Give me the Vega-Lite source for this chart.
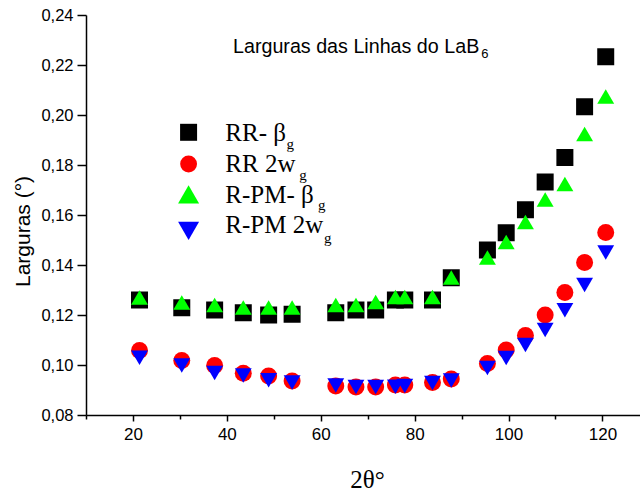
{
  "$schema": "https://vega.github.io/schema/vega-lite/v6.json",
  "width": 554,
  "height": 400,
  "autosize": {"type": "none"},
  "padding": {"left": 86, "top": 15, "right": 0, "bottom": 78},
  "background": "#ffffff",
  "config": {"view": {"stroke": null}, "font": "Liberation Sans"},
  "layer": [
    {
      "data": {
        "values": [
          {"s": "RR-β", "x": 21.4, "y": 0.126},
          {"s": "RR-β", "x": 30.4, "y": 0.1229},
          {"s": "RR-β", "x": 37.4, "y": 0.122},
          {"s": "RR-β", "x": 43.5, "y": 0.1209},
          {"s": "RR-β", "x": 48.9, "y": 0.12},
          {"s": "RR-β", "x": 53.9, "y": 0.1203},
          {"s": "RR-β", "x": 63.2, "y": 0.1209},
          {"s": "RR-β", "x": 67.5, "y": 0.122},
          {"s": "RR-β", "x": 71.7, "y": 0.122},
          {"s": "RR-β", "x": 75.9, "y": 0.126},
          {"s": "RR-β", "x": 77.9, "y": 0.126},
          {"s": "RR-β", "x": 83.8, "y": 0.126},
          {"s": "RR-β", "x": 87.8, "y": 0.1349},
          {"s": "RR-β", "x": 95.5, "y": 0.146},
          {"s": "RR-β", "x": 99.5, "y": 0.1529},
          {"s": "RR-β", "x": 103.6, "y": 0.1621},
          {"s": "RR-β", "x": 107.8, "y": 0.1732},
          {"s": "RR-β", "x": 112.0, "y": 0.183},
          {"s": "RR-β", "x": 116.2, "y": 0.2033},
          {"s": "RR-β", "x": 120.7, "y": 0.2233},
          {"s": "RR 2w", "x": 21.4, "y": 0.1058},
          {"s": "RR 2w", "x": 30.4, "y": 0.1018},
          {"s": "RR 2w", "x": 37.4, "y": 0.0998},
          {"s": "RR 2w", "x": 43.5, "y": 0.0967},
          {"s": "RR 2w", "x": 48.9, "y": 0.0956},
          {"s": "RR 2w", "x": 53.9, "y": 0.0936},
          {"s": "RR 2w", "x": 63.2, "y": 0.0916},
          {"s": "RR 2w", "x": 67.5, "y": 0.0912},
          {"s": "RR 2w", "x": 71.7, "y": 0.0912},
          {"s": "RR 2w", "x": 75.9, "y": 0.092},
          {"s": "RR 2w", "x": 77.9, "y": 0.092},
          {"s": "RR 2w", "x": 83.8, "y": 0.093},
          {"s": "RR 2w", "x": 87.8, "y": 0.0944},
          {"s": "RR 2w", "x": 95.5, "y": 0.1006},
          {"s": "RR 2w", "x": 99.5, "y": 0.106},
          {"s": "RR 2w", "x": 103.6, "y": 0.1118},
          {"s": "RR 2w", "x": 107.8, "y": 0.12},
          {"s": "RR 2w", "x": 112.0, "y": 0.129},
          {"s": "RR 2w", "x": 116.2, "y": 0.141},
          {"s": "RR 2w", "x": 120.7, "y": 0.153},
          {"s": "R-PM-β", "x": 21.4, "y": 0.127},
          {"s": "R-PM-β", "x": 30.4, "y": 0.125},
          {"s": "R-PM-β", "x": 37.4, "y": 0.124},
          {"s": "R-PM-β", "x": 43.5, "y": 0.123},
          {"s": "R-PM-β", "x": 48.9, "y": 0.123},
          {"s": "R-PM-β", "x": 53.9, "y": 0.123},
          {"s": "R-PM-β", "x": 63.2, "y": 0.124},
          {"s": "R-PM-β", "x": 67.5, "y": 0.124},
          {"s": "R-PM-β", "x": 71.7, "y": 0.1252},
          {"s": "R-PM-β", "x": 75.9, "y": 0.1272},
          {"s": "R-PM-β", "x": 77.9, "y": 0.1272},
          {"s": "R-PM-β", "x": 83.8, "y": 0.1272},
          {"s": "R-PM-β", "x": 87.8, "y": 0.135},
          {"s": "R-PM-β", "x": 95.5, "y": 0.143},
          {"s": "R-PM-β", "x": 99.5, "y": 0.1492},
          {"s": "R-PM-β", "x": 103.6, "y": 0.1572},
          {"s": "R-PM-β", "x": 107.8, "y": 0.1662},
          {"s": "R-PM-β", "x": 112.0, "y": 0.1724},
          {"s": "R-PM-β", "x": 116.2, "y": 0.1924},
          {"s": "R-PM-β", "x": 120.7, "y": 0.2074},
          {"s": "R-PM 2w", "x": 21.4, "y": 0.1029},
          {"s": "R-PM 2w", "x": 30.4, "y": 0.0998},
          {"s": "R-PM 2w", "x": 37.4, "y": 0.0968},
          {"s": "R-PM 2w", "x": 43.5, "y": 0.0958},
          {"s": "R-PM 2w", "x": 48.9, "y": 0.0939},
          {"s": "R-PM 2w", "x": 53.9, "y": 0.093},
          {"s": "R-PM 2w", "x": 63.2, "y": 0.0918},
          {"s": "R-PM 2w", "x": 67.5, "y": 0.0912},
          {"s": "R-PM 2w", "x": 71.7, "y": 0.0912},
          {"s": "R-PM 2w", "x": 75.9, "y": 0.0913},
          {"s": "R-PM 2w", "x": 77.9, "y": 0.0916},
          {"s": "R-PM 2w", "x": 83.8, "y": 0.0928},
          {"s": "R-PM 2w", "x": 87.8, "y": 0.0938},
          {"s": "R-PM 2w", "x": 95.5, "y": 0.0988},
          {"s": "R-PM 2w", "x": 99.5, "y": 0.1028},
          {"s": "R-PM 2w", "x": 103.6, "y": 0.108},
          {"s": "R-PM 2w", "x": 107.8, "y": 0.114},
          {"s": "R-PM 2w", "x": 112.0, "y": 0.1219},
          {"s": "R-PM 2w", "x": 116.2, "y": 0.132},
          {"s": "R-PM 2w", "x": 120.7, "y": 0.145}
        ]
      },
      "mark": {"type": "point", "filled": true, "opacity": 1, "strokeWidth": 0},
      "encoding": {
        "x": {
          "field": "x", "type": "quantitative",
          "scale": {"domain": [10, 128], "nice": false, "zero": false},
          "axis": {
            "values": [10, 20, 30, 40, 50, 60, 70, 80, 90, 100, 110, 120],
            "labelExpr": "datum.value % 20 == 0 ? datum.label : ''",
            "title": "2θ°",
            "titleFont": "Liberation Serif", "titleFontSize": 25, "titleFontWeight": "normal", "titleColor": "#000000",
            "titleBaseline": "alphabetic", "titleY": 72, "titleX": 281,
            "labelFont": "Liberation Sans", "labelFontSize": 17, "labelColor": "#000000", "labelPadding": 5,
            "labelFlush": false, "labelOverlap": false,
            "tickSize": {"condition": {"test": "datum.value % 20 == 0", "value": 6}, "value": 4},
            "tickColor": "#000000", "tickWidth": 1.5,
            "domainColor": "#000000", "domainWidth": 1.5, "grid": false
          }
        },
        "y": {
          "field": "y", "type": "quantitative",
          "scale": {"domain": [0.08, 0.24], "nice": false, "zero": false},
          "axis": {
            "values": [0.08, 0.09, 0.1, 0.11, 0.12, 0.13, 0.14, 0.15, 0.16, 0.17, 0.18, 0.19, 0.2, 0.21, 0.22, 0.23, 0.24],
            "labelExpr": "round(datum.value * 100) % 2 == 0 ? replace(format(datum.value, '.2f'), '.', ',') : ''",
            "title": "Larguras (°)",
            "titleFont": "Liberation Sans", "titleFontSize": 21, "titleFontWeight": "normal", "titleColor": "#000000",
            "titleBaseline": "alphabetic", "titleX": -57, "titleY": 216,
            "labelFont": "Liberation Sans", "labelFontSize": 16.5, "labelColor": "#000000", "labelPadding": 4,
            "labelFlush": false, "labelOverlap": false,
            "tickSize": {"condition": {"test": "round(datum.value * 100) % 2 == 0", "value": 9}, "value": 4.5},
            "tickColor": "#000000", "tickWidth": 1.5,
            "domainColor": "#000000", "domainWidth": 1.5, "grid": false
          }
        },
        "color": {"field": "s", "type": "nominal", "scale": {"domain": ["RR-β", "RR 2w", "R-PM-β", "R-PM 2w"], "range": ["#000000", "#ff0000", "#00ff00", "#0000ff"]}, "legend": null},
        "shape": {"field": "s", "type": "nominal", "scale": {"domain": ["RR-β", "RR 2w", "R-PM-β", "R-PM 2w"], "range": ["square", "circle", "triangle-up", "triangle-down"]}, "legend": null},
        "size": {"field": "s", "type": "ordinal", "scale": {"domain": ["RR-β", "RR 2w", "R-PM-β", "R-PM 2w"], "range": [289, 284, 441, 441]}, "legend": null}
      }
    },
    {
      "data": {"values": [{}]},
      "mark": {"type": "point", "shape": "square", "filled": true, "opacity": 1, "strokeWidth": 0, "color": "#000000", "size": 289},
      "encoding": {"x": {"datum": 31.85}, "y": {"datum": 0.19308}}
    },
    {
      "data": {"values": [{}]},
      "mark": {"type": "point", "shape": "circle", "filled": true, "opacity": 1, "strokeWidth": 0, "color": "#ff0000", "size": 284},
      "encoding": {"x": {"datum": 31.85}, "y": {"datum": 0.1804}}
    },
    {
      "data": {"values": [{}]},
      "mark": {"type": "point", "shape": "triangle-up", "filled": true, "opacity": 1, "strokeWidth": 0, "color": "#00ff00", "size": 441},
      "encoding": {"x": {"datum": 31.85}, "y": {"datum": 0.16828}}
    },
    {
      "data": {"values": [{}]},
      "mark": {"type": "point", "shape": "triangle-down", "filled": true, "opacity": 1, "strokeWidth": 0, "color": "#0000ff", "size": 441},
      "encoding": {"x": {"datum": 31.85}, "y": {"datum": 0.15368}}
    },
    {
      "data": {"values": [{}]},
      "mark": {"type": "text", "align": "left", "baseline": "alphabetic", "font": "Liberation Serif", "fontSize": 25, "color": "#000000", "text": "RR- β"},
      "encoding": {"x": {"datum": 39.67}, "y": {"datum": 0.18972}}
    },
    {
      "data": {"values": [{}]},
      "mark": {"type": "text", "align": "left", "baseline": "alphabetic", "font": "Liberation Serif", "fontSize": 25, "color": "#000000", "text": "RR 2w"},
      "encoding": {"x": {"datum": 39.67}, "y": {"datum": 0.17732}}
    },
    {
      "data": {"values": [{}]},
      "mark": {"type": "text", "align": "left", "baseline": "alphabetic", "font": "Liberation Serif", "fontSize": 25, "color": "#000000", "text": "R-PM- β"},
      "encoding": {"x": {"datum": 39.67}, "y": {"datum": 0.16492}}
    },
    {
      "data": {"values": [{}]},
      "mark": {"type": "text", "align": "left", "baseline": "alphabetic", "font": "Liberation Serif", "fontSize": 25, "color": "#000000", "text": "R-PM 2w"},
      "encoding": {"x": {"datum": 39.67}, "y": {"datum": 0.15292}}
    },
    {
      "data": {"values": [{}]},
      "mark": {"type": "text", "align": "left", "baseline": "alphabetic", "font": "Liberation Serif", "fontSize": 15, "color": "#000000", "text": "g"},
      "encoding": {"x": {"datum": 52.7}, "y": {"datum": 0.18652}}
    },
    {
      "data": {"values": [{}]},
      "mark": {"type": "text", "align": "left", "baseline": "alphabetic", "font": "Liberation Serif", "fontSize": 15, "color": "#000000", "text": "g"},
      "encoding": {"x": {"datum": 55.4}, "y": {"datum": 0.17412}}
    },
    {
      "data": {"values": [{}]},
      "mark": {"type": "text", "align": "left", "baseline": "alphabetic", "font": "Liberation Serif", "fontSize": 15, "color": "#000000", "text": "g"},
      "encoding": {"x": {"datum": 59.4}, "y": {"datum": 0.16212}}
    },
    {
      "data": {"values": [{}]},
      "mark": {"type": "text", "align": "left", "baseline": "alphabetic", "font": "Liberation Serif", "fontSize": 15, "color": "#000000", "text": "g"},
      "encoding": {"x": {"datum": 60.7}, "y": {"datum": 0.14892}}
    },
    {
      "data": {"values": [{}]},
      "mark": {"type": "text", "align": "left", "baseline": "alphabetic", "font": "Liberation Sans", "fontSize": 19.7, "color": "#000000", "text": "Larguras das Linhas do LaB"},
      "encoding": {"x": {"datum": 41.31}, "y": {"datum": 0.22492}}
    },
    {
      "data": {"values": [{}]},
      "mark": {"type": "text", "align": "left", "baseline": "alphabetic", "font": "Liberation Sans", "fontSize": 13, "color": "#000000", "text": "6"},
      "encoding": {"x": {"datum": 94.2}, "y": {"datum": 0.22268}}
    }
  ]
}
